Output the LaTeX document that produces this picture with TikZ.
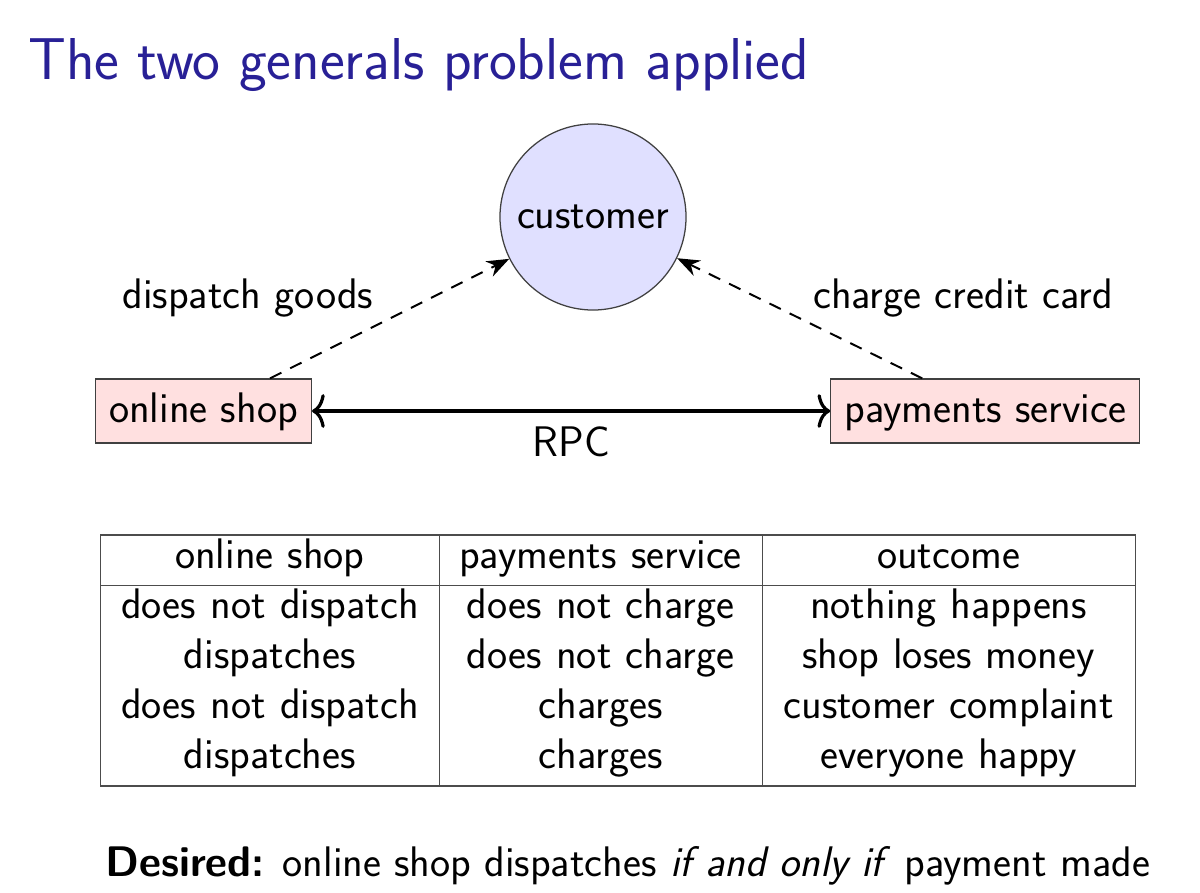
\documentclass[tikz,border=0pt]{standalone}
\usepackage{tikz}
\usetikzlibrary{arrows.meta, positioning, matrix}
\usepackage{xcolor}
\definecolor{titleblue}{RGB}{40,32,150}
\newcommand{\bodyfont}{\fontsize{30.4}{36}\selectfont\sffamily}
\newcommand{\titlefont}{\fontsize{42}{50}\selectfont\sffamily}

\begin{document}
\begin{tikzpicture}[
    x=0.025cm, y=-0.025cm,
    every node/.style={font=\bodyfont},
    party/.style={
        rectangle, draw=black!75, fill=red!12, line width=0.9pt,
        inner xsep=0.34cm, inner ysep=0pt, text height=1.075cm, text depth=0.525cm
    },
    client/.style={circle, draw=black!75, fill=blue!12, line width=0.9pt, minimum size=4.65cm, inner sep=0pt},
    msg/.style={-{Stealth[length=16pt, width=12pt]}, dashed, dash pattern=on 9pt off 7pt, line width=1.4pt},
    rpc/.style={{To[length=9pt, width=24pt]}-{To[length=9pt, width=24pt]}, line width=2.3pt},
    tablerule/.style={draw=black!70, line width=1pt}
]
    \useasboundingbox (0,0) rectangle (1200,892);

    \node[anchor=base west, font=\titlefont, text=titleblue, inner sep=0pt] (title) at (28,80) {The two generals problem applied};

    %% Parties
    \node[client] (customer) at (593,217) {customer};
    \node[party] (shop) at (203.5,411) {online shop};
    \node[party, right=12.95cm of shop] (payments) {payments service};

    \node (dispatchlbl) at (248,298) {dispatch goods};
    \node (chargelbl) at (963,298) {charge credit card};

    \draw[rpc] (shop) -- node[below=0.24cm] (rpclbl) {RPC} (payments);
    \draw[msg] ([xshift=-1.05cm]shop.north east) -- (customer);
    \draw[msg] ([xshift=2.3cm]payments.north west) -- (customer);

    %% Outcome table
    \matrix (outcomes) at (618,660.5) [
        matrix of nodes, row sep=0pt, column sep=0pt, inner sep=0pt,
        nodes={inner sep=0pt, align=center, text height=0.825cm, text depth=0.425cm},
        column 1/.style={nodes={text width=8.45cm}},
        column 2/.style={nodes={text width=8.075cm}},
        column 3/.style={nodes={text width=9.325cm}}
    ] {
        online shop & payments service & outcome \\
        does not dispatch & does not charge & nothing happens \\
        dispatches & does not charge & shop loses money \\
        does not dispatch & charges & customer complaint \\
        dispatches & charges & everyone happy \\
    };
    \draw[tablerule] (outcomes-1-1.north west) rectangle (outcomes-5-3.south east);
    \draw[tablerule] (outcomes-1-1.south west) -- (outcomes-1-3.south east);
    \draw[tablerule] (outcomes-1-1.north east) -- (outcomes-5-1.south east);
    \draw[tablerule] (outcomes-1-2.north east) -- (outcomes-5-2.south east);

    \node[anchor=base west, inner sep=0pt] (desired) at (105,876) {\textbf{Desired:} online shop dispatches \textit{if and only if} payment made};
\end{tikzpicture}
\end{document}
